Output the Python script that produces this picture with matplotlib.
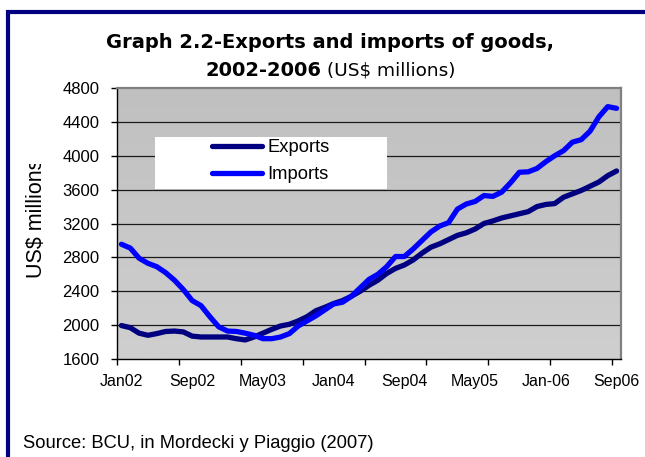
import matplotlib
matplotlib.use("Agg")
import matplotlib.pyplot as plt
import numpy as np
from matplotlib.patches import Rectangle
from matplotlib.transforms import Bbox

# monthly values, Jan02 .. Sep06 (US$ millions)
exports = [1995, 1970, 1905, 1880, 1900, 1925, 1930, 1920, 1870, 1860,
           1860, 1860, 1860, 1840, 1825, 1860, 1905, 1950, 1990, 2010,
           2050, 2100, 2170, 2210, 2255, 2290, 2340, 2400, 2470, 2530,
           2610, 2670, 2710, 2770, 2850, 2920, 2960, 3010, 3060, 3090,
           3135, 3200, 3230, 3265, 3290, 3315, 3340, 3400, 3425, 3435,
           3510, 3550, 3590, 3640, 3690, 3765, 3820]
imports = [2955, 2910, 2790, 2730, 2690, 2620, 2530, 2420, 2290, 2230,
           2100, 1980, 1930, 1925, 1905, 1880, 1840, 1840, 1860, 1900,
           1990, 2050, 2110, 2180, 2250, 2270, 2340, 2440, 2540, 2600,
           2690, 2810, 2810, 2900, 3000, 3100, 3170, 3210, 3370, 3430,
           3460, 3530, 3520, 3570, 3680, 3805, 3810, 3850, 3930, 4000,
           4060, 4160, 4190, 4290, 4460, 4580, 4560]
month_labels = ["Jan02", "Sep02", "May03", "Jan04", "Sep04", "May05", "Jan-06", "Sep06"]
y_ticks = [1600, 2000, 2400, 2800, 3200, 3600, 4000, 4400, 4800]

navy = "#000080"
blue = "#0000FF"
W, H = 645, 457

fig = plt.figure(figsize=(W / 100, H / 100), dpi=100)
fig.patch.set_facecolor("white")

# navy frame running off the right / bottom edge
fig.patches.append(Rectangle((7.5 / W, -0.5), 2.0, 0.5 + 1 - 12 / H,
                             transform=fig.transFigure, fill=False,
                             edgecolor=navy, lw=3))

ax = fig.add_axes([117 / W, 1 - 359 / H, 504 / W, 271 / H])
n = len(exports)
x = np.arange(n) + 0.5

# plot area gradient
grad = np.linspace(0, 1, 100).reshape(-1, 1)
ax.imshow(grad, extent=[0, 1, 0, 1], transform=ax.transAxes, aspect="auto",
          cmap=matplotlib.colors.LinearSegmentedColormap.from_list("g", ["#C0C0C0", "#CFCFCF"]),
          zorder=0)

for v in y_ticks[1:-1]:
    ax.axhline(v, color="#1a1a1a", lw=0.9, zorder=1)

# legend background box
ax.add_patch(Rectangle((0.075, 0.629), 0.46, 0.191, transform=ax.transAxes,
                       facecolor="white", edgecolor="none", zorder=2))

ax.plot(x, exports, color=navy, lw=3.8, solid_capstyle="round",
        solid_joinstyle="round", label="Exports", zorder=3)
ax.plot(x, imports, color=blue, lw=3.8, solid_capstyle="round",
        solid_joinstyle="round", label="Imports", zorder=3)

ax.set_xlim(0, n)
ax.set_ylim(1600, 4800)

ax.set_yticks(y_ticks)
ax.tick_params(axis="y", direction="out", length=4, width=1, pad=8.5,
               labelsize=12)
for lab in ax.get_yticklabels():
    lab.set_fontfamily("Liberation Sans")

ax.set_xticks(np.arange(0, n, 7))
ax.set_xticklabels([])
ax.tick_params(axis="x", which="major", direction="out", length=4, width=1)
ax.set_xticks(np.arange(0, n, 8) + 0.5, minor=True)
ax.set_xticklabels(month_labels, minor=True, fontfamily="Liberation Sans",
                   fontsize=11.5)
ax.tick_params(axis="x", which="minor", length=0, pad=11)

for s in ["left", "bottom"]:
    ax.spines[s].set_color("black")
    ax.spines[s].set_linewidth(1)
for s in ["top", "right"]:
    ax.spines[s].set_color("#808080")
    ax.spines[s].set_linewidth(1.6)

leg = ax.legend(loc="upper left", bbox_to_anchor=(0.1885, 0.812), frameon=False,
                borderpad=0, borderaxespad=0, handlelength=2.7,
                handletextpad=0.3, labelspacing=0.55,
                prop={"family": "Liberation Sans", "size": 13.2})
for h in leg.get_lines():
    h.set_linewidth(3.8)
    h.set_solid_capstyle("round")

# title
fig.text(330.5 / W, 1 - 47.5 / H, "Graph 2.2-Exports and imports of goods,",
         ha="center", va="baseline", fontsize=14, fontweight="bold",
         family="DejaVu Sans")
r = fig.canvas.get_renderer()
t1 = fig.text(0, 1 - 75.5 / H, "2002-2006", ha="left", va="baseline",
              fontsize=14, fontweight="bold", family="DejaVu Sans")
t2 = fig.text(0, 1 - 75.5 / H, r" (US\$ millions)", ha="left", va="baseline",
              fontsize=13.3, family="DejaVu Sans")
w1 = t1.get_window_extent(r).width
w2 = t2.get_window_extent(r).width
x0 = 330.5 - (w1 + w2) / 2
t1.set_x(x0 / W)
t2.set_x((x0 + w1) / W)

# y label, clipped at the top like the original
yl = fig.text(37 / W, 1 - 278 / H, r"US\$ millions", rotation=90, ha="center",
              va="bottom", fontsize=15.5, family="Liberation Sans")
yl.set_clip_box(Bbox([[0, 0], [W, H - 164]]))
yl.set_clip_on(True)

fig.text(23 / W, 1 - 443 / H, "Source: BCU, in Mordecki y Piaggio (2007)",
         ha="left", va="center", fontsize=13.2, family="Liberation Sans")

fig.savefig("out.png", dpi=100)
